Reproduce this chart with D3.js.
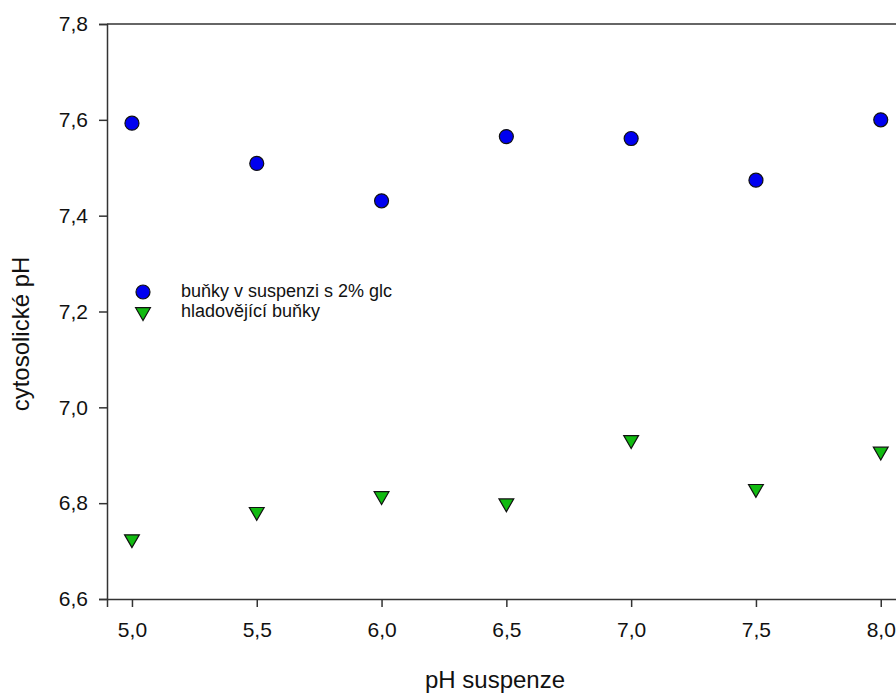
<!DOCTYPE html>
<html>
<head>
<meta charset="utf-8">
<script src="https://cdnjs.cloudflare.com/ajax/libs/d3/7.8.5/d3.min.js"></script>
<style>
  body { margin: 0; background: #fff; }
  svg { display: block; font-family: "Liberation Sans", Arial, sans-serif; }
</style>
</head>
<body>
<div id="chart"></div>
<script>
(function() {
  // data
  let suspensionPH = [5.0, 5.5, 6.0, 6.5, 7.0, 7.5, 8.0];
  let glucoseCells = [7.593, 7.509, 7.431, 7.565, 7.561, 7.474, 7.600];
  let starvedCells = [6.725, 6.782, 6.815, 6.800, 6.932, 6.830, 6.908];
  let seriesNames = ["buňky v suspenzi s 2% glc", "hladovějící buňky"];
  let xTicks = [5.0, 5.5, 6.0, 6.5, 7.0, 7.5, 8.0];
  let yTicks = [6.6, 6.8, 7.0, 7.2, 7.4, 7.6, 7.8];

  let width = 896;
  let height = 693;

  var svg = d3.select("#chart")
    .append("svg")
    .attr("width", width)
    .attr("height", height);

  // plot box runs past the right edge of the picture
  var x = d3.scaleLinear().domain([4.9, 8.1]).range([107, 905.7]);
  var y = d3.scaleLinear().domain([6.6, 7.8]).range([599, 24]);

  var fmt = function(d) { return d3.format(".1f")(d).replace(".", ","); };

  // top frame line
  svg.append("line")
    .attr("x1", x(4.9)).attr("x2", x(8.1))
    .attr("y1", y(7.8)).attr("y2", y(7.8))
    .attr("stroke", "#333").attr("stroke-width", 1.5);

  var xAxis = svg.append("g")
    .attr("transform", "translate(0," + y(6.6) + ")")
    .call(d3.axisBottom(x).tickValues(xTicks).tickFormat(fmt).tickSize(8).tickPadding(15));

  var yAxis = svg.append("g")
    .attr("transform", "translate(" + x(4.9) + ",0)")
    .call(d3.axisLeft(y).tickValues(yTicks).tickFormat(fmt).tickSize(8).tickPadding(11));

  [xAxis, yAxis].forEach(function(g) {
    g.attr("font-size", null).attr("font-family", null);
    g.select(".domain").attr("stroke", "#333").attr("stroke-width", 1.5);
    g.selectAll(".tick line").attr("stroke", "#333").attr("stroke-width", 1.5);
    g.selectAll(".tick text")
      .attr("fill", "#111")
      .style("font-size", "21px");
  });

  // axis titles
  svg.append("text")
    .attr("x", 495).attr("y", 688)
    .attr("text-anchor", "middle")
    .style("font-size", "24px")
    .attr("fill", "#111")
    .text("pH suspenze");

  svg.append("text")
    .attr("transform", "translate(29,334) rotate(-90)")
    .attr("text-anchor", "middle")
    .style("font-size", "24px")
    .attr("fill", "#111")
    .text("cytosolické pH");

  var triangle = d3.symbol().type(d3.symbolTriangle).size(95);

  // blue circles
  svg.selectAll("circle.glc")
    .data(suspensionPH)
    .enter()
    .append("circle")
    .attr("class", "glc")
    .attr("cx", function(d) { return x(d); })
    .attr("cy", function(d, i) { return y(glucoseCells[i]); })
    .attr("r", 7)
    .attr("fill", "#0000f0")
    .attr("stroke", "#111")
    .attr("stroke-width", 1.2);

  // green triangles pointing down
  svg.selectAll("path.starved")
    .data(suspensionPH)
    .enter()
    .append("path")
    .attr("class", "starved")
    .attr("d", triangle)
    .attr("transform", function(d, i) {
      return "translate(" + x(d) + "," + y(starvedCells[i]) + ") rotate(180)";
    })
    .attr("fill", "#11bb11")
    .attr("stroke", "#111")
    .attr("stroke-width", 1.2);

  // legend
  var legend = svg.append("g");
  legend.append("circle")
    .attr("cx", 143).attr("cy", 292).attr("r", 7)
    .attr("fill", "#0000f0").attr("stroke", "#111").attr("stroke-width", 1.2);
  legend.append("path")
    .attr("d", triangle)
    .attr("transform", "translate(143,312) rotate(180)")
    .attr("fill", "#11bb11").attr("stroke", "#111").attr("stroke-width", 1.2);
  legend.selectAll("text")
    .data(seriesNames)
    .enter()
    .append("text")
    .attr("x", 181)
    .attr("y", function(d, i) { return 291 + i * 20; })
    .attr("dy", "0.35em")
    .style("font-size", "18px")
    .attr("fill", "#111")
    .text(function(d) { return d; });
})();
</script>
</body>
</html>
